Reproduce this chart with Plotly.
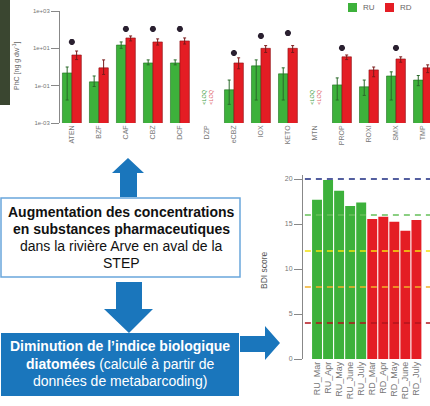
import plotly.graph_objects as go

W, H = 430, 406
def px(x): return x / W
def py(y): return 1 - y / H

# ---------------- data: top chart (pharmaceutical concentrations, log scale)
compounds = ['ATEN', 'BZF', 'CAF', 'CBZ', 'DCF', 'DZP', 'eCBZ', 'IOX', 'KETO', 'MTN', 'PROP', 'ROXI', 'SMX', 'TMP']
ru_vals = [0.48, 0.16, 15, 1.65, 1.65, None, 0.06, 1.15, 0.43, None, 0.11, 0.087, 0.33, 0.2]
ru_high = [1.0, 0.33, 22, 2.4, 2.4, None, 0.2, 2.4, 0.9, None, 0.26, 0.2, 0.55, 0.35]
ru_low = [0.017, 0.09, 10, 1.3, 1.3, None, 0.01, 0.017, 0.017, None, 0.017, 0.03, 0.017, 0.1]
rd_vals = [4.4, 0.9, 36, 22, 25, None, 1.65, 10, 10, None, 3.5, 0.7, 2.7, 0.9]
rd_high = [7.2, 2.4, 46, 32, 36, None, 3.1, 14, 14, None, 4.4, 1.0, 3.5, 1.3]
rd_low = [2.5, 0.4, 25, 15, 17, None, 0.8, 6, 6, None, 2.5, 0.3, 1.8, 0.5]
star_vals = [22, None, 110, 110, 110, None, 5.6, 46, 66, None, 10.5, None, 10.5, None]
loq_compounds = ['DZP', 'MTN']
log_ticks = [1e-3, 1e-1, 1e1, 1e3]
log_ticktext = ['1e-03', '1e-01', '1e+01', '1e+03']

# ---------------- data: bottom chart (BDI score)
samples = ['RU_Mar', 'RU_Apr', 'RU_May', 'RU_June', 'RU_July',
           'RD_Mar', 'RD_Apr', 'RD_May', 'RD_June', 'RD_July']
bdi = [17.7, 19.9, 18.7, 17.0, 17.4, 15.55, 15.8, 15.25, 14.25, 15.45]
bdi_ticks = [0, 5, 10, 15, 20]
thresholds = [20, 16, 12, 8, 4]
threshold_colors = ['#1b2a80', '#66c05a', '#f2e20c', '#f2b02a', '#b3151c']

# ---------------- text of the boxes
box1_lines = ['<b>Augmentation des concentrations</b>', '<b>en substances pharmaceutiques</b>',
              'dans la rivière Arve en aval de la', 'STEP']
box2_lines = ['<b>Diminution de l’indice biologique</b>', '<b>diatomées</b> (calculé à partir de',
              'données de metabarcoding)']

GREEN = '#3db13b'
RED = '#e41d24'
BLUE = '#1a76bc'

def err_plus(v, hi):
    return [(h - x) if (x is not None and h is not None) else 0 for x, h in zip(v, hi)]
def err_minus(v, lo):
    return [(x - l) if (x is not None and l is not None) else 0 for x, l in zip(v, lo)]

fig = go.Figure()

# top chart bars
fig.add_trace(go.Bar(x=compounds, y=ru_vals, width=0.35, offset=-0.35,
                     marker=dict(color=GREEN, line=dict(color='#1f6e1e', width=0.6)),
                     error_y=dict(type='data', array=err_plus(ru_vals, ru_high),
                                  arrayminus=err_minus(ru_vals, ru_low),
                                  color='#2a6a2a', thickness=1, width=1.5),
                     xaxis='x', yaxis='y', showlegend=False, name='RU'))
fig.add_trace(go.Bar(x=compounds, y=rd_vals, width=0.35, offset=0,
                     marker=dict(color=RED, line=dict(color='#8a1014', width=0.6)),
                     error_y=dict(type='data', array=err_plus(rd_vals, rd_high),
                                  arrayminus=err_minus(rd_vals, rd_low),
                                  color='#7a1a1a', thickness=1, width=1.5),
                     xaxis='x', yaxis='y', showlegend=False, name='RD'))
fig.add_trace(go.Scatter(x=compounds, y=star_vals, mode='markers',
                         marker=dict(symbol='asterisk-open', size=5, color='#2a2030',
                                     line=dict(color='#2a2030', width=2)),
                         xaxis='x', yaxis='y', showlegend=False, hoverinfo='skip'))

# bottom chart bars
bottom_colors = [GREEN if s.startswith('RU') else RED for s in samples]
fig.add_trace(go.Bar(x=list(range(len(samples))), y=bdi, width=0.9, offset=-0.45,
                     marker=dict(color=bottom_colors, line=dict(width=0)),
                     xaxis='x2', yaxis='y2', showlegend=False))
for t, c in zip(thresholds, threshold_colors):
    fig.add_trace(go.Scatter(x=[-1.1, 11], y=[t, t], mode='lines',
                             line=dict(color=c, width=1.6, dash='6px,5px'),
                             xaxis='x2', yaxis='y2', showlegend=False, hoverinfo='skip'))

shapes = []
annotations = []

def note(x, y, text, size, color, **kw):
    d = dict(x=x, y=y, xref='paper', yref='paper', text=text, showarrow=False,
             xanchor='center', yanchor='middle',
             font=dict(size=size, color=color, family='Liberation Sans'))
    d.update(kw)
    annotations.append(d)

# baseline segments for <LOQ compounds
for comp in loq_compounds:
    i = compounds.index(comp)
    shapes.append(dict(type='line', xref='x', yref='y', x0=i - 0.35, x1=i + 0.35,
                       y0=-3, y1=-3, line=dict(color='#777', width=1)))
    for shift, col in [(-3, '#3a9a3a'), (4, '#e0606a')]:
        annotations.append(dict(x=comp, y=-1.6, xref='x', yref='y', text='&lt;LOQ',
                                textangle=-90, showarrow=False, xshift=shift,
                                xanchor='center', yanchor='middle',
                                font=dict(size=5.5, color=col, family='Liberation Sans')))

# photo strip at the top-left
shapes.append(dict(type='rect', xref='paper', yref='paper', x0=0, x1=px(10), y0=py(105), y1=1,
                   fillcolor='#3a4630', line=dict(width=0), layer='below'))

# manual legend
for lx, col, lab in [(348, GREEN, 'RU'), (385, RED, 'RD')]:
    shapes.append(dict(type='rect', xref='paper', yref='paper', x0=px(lx), x1=px(lx + 9),
                       y0=py(12), y1=py(3), fillcolor=col, line=dict(width=0)))
    note(px(lx + 13), py(7.5), lab, 8, '#666', xanchor='left')

# axis titles
note(px(16), py(66), 'PhC [ng g dw<sup>-1</sup>]', 7, '#666', textangle=-90)
note(px(264), py(270), 'BDI score', 8.5, '#555', textangle=-90)

# text boxes
shapes.append(dict(type='rect', xref='paper', yref='paper', x0=px(1), x1=px(240),
                   y0=py(277), y1=py(198), fillcolor='white',
                   line=dict(color='#6aa6dc', width=1.5)))
shapes.append(dict(type='rect', xref='paper', yref='paper', x0=px(1), x1=px(239),
                   y0=py(396), y1=py(333), fillcolor=BLUE, line=dict(width=0)))

def poly(pts):
    return 'M ' + ' L '.join(f'{px(x):.5f},{py(y):.5f}' for x, y in pts) + ' Z'

# up arrow
shapes.append(dict(type='path', xref='paper', yref='paper', fillcolor=BLUE, line=dict(width=0),
                   path=poly([(128, 158), (144, 173), (137, 173), (137, 197), (120, 197),
                              (120, 173), (112, 173)])))
# down arrow
shapes.append(dict(type='path', xref='paper', yref='paper', fillcolor=BLUE, line=dict(width=0),
                   path=poly([(116, 282), (142, 282), (142, 309), (153, 309), (129, 333),
                              (104, 309), (116, 309)])))
# right arrow
shapes.append(dict(type='path', xref='paper', yref='paper', fillcolor=BLUE, line=dict(width=0),
                   path=poly([(240, 336), (265, 336), (265, 326), (280, 343), (265, 360),
                              (265, 352), (240, 352)])))

for line, yy in zip(box1_lines, [212, 229, 246, 263]):
    note(px(121), py(yy), line, 14, '#111')
for line, yy in zip(box2_lines, [346, 364, 381]):
    note(px(120), py(yy), line, 14, 'white')

fig.update_layout(
    width=W, height=H, margin=dict(l=0, r=0, t=0, b=0),
    paper_bgcolor='white', plot_bgcolor='rgba(0,0,0,0)',
    barmode='overlay', showlegend=False,
    font=dict(family='Liberation Sans', color='#666'),
    xaxis=dict(domain=[px(60), 1], anchor='y', type='category', range=[-0.44, 13.26],
               showline=False, ticks='', tickangle=-90, showgrid=False, automargin=False,
               tickfont=dict(size=7, color='#777')),
    yaxis=dict(domain=[py(123), py(11)], anchor='x', type='log', range=[-3, 3],
               tickvals=log_ticks, ticktext=log_ticktext, ticks='outside', ticklen=8,
               tickcolor='#888', showline=True, linecolor='#888', linewidth=1, automargin=False,
               showgrid=False, zeroline=False, tickfont=dict(size=6, color='#777')),
    xaxis2=dict(domain=[px(303), 1], anchor='y2', range=[-1.27, 10.23],
                tickvals=list(range(len(samples))), ticktext=samples, tickangle=-90,
                showline=False, ticks='', showgrid=False, zeroline=False, automargin=False,
                tickfont=dict(size=9, color='#777')),
    yaxis2=dict(domain=[py(359), py(175.4)], anchor='x2', range=[0, 20.4],
                tickvals=bdi_ticks, ticks='outside', ticklen=8, tickcolor='#888',
                showline=True, linecolor='#888', linewidth=1, showgrid=False, zeroline=False,
                automargin=False, tickfont=dict(size=7, color='#777')),
    shapes=shapes, annotations=annotations,
)

fig.write_html('out.html', config={'displayModeBar': False},
               post_script="document.body.style.margin='0';document.body.style.overflow='hidden';")
